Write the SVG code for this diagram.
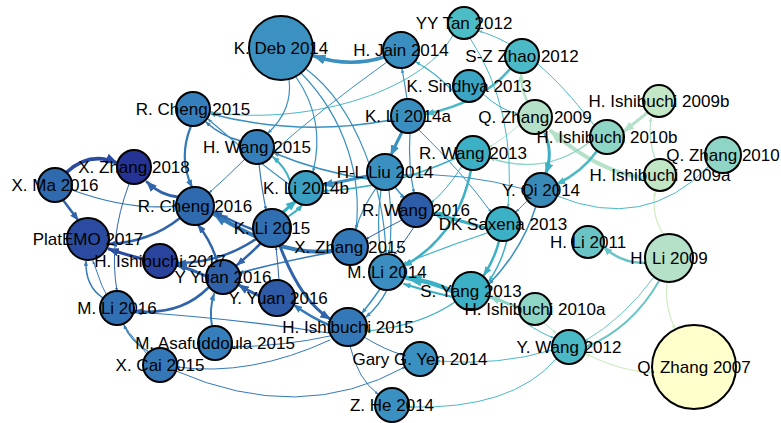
<svg xmlns="http://www.w3.org/2000/svg" width="781" height="423" viewBox="0 0 781 423">
<style>
.e{fill:none;stroke-linecap:round}
.cA{stroke:#2a4b9f;marker-end:url(#mA)}
.cB{stroke:#2f64ab;marker-end:url(#mB)}
.cC{stroke:#3479b8;marker-end:url(#mC)}
.cD{stroke:#3a90c0;marker-end:url(#mD)}
.cE{stroke:#3cb0c4;marker-end:url(#mE)}
.cF{stroke:#4bb8c6;marker-end:url(#mF)}
.cG{stroke:#6ac4c6;marker-end:url(#mG)}
.cH{stroke:#8ed5c6;marker-end:url(#mH)}
.cI{stroke:#b5e1c8;marker-end:url(#mI)}
.cJ{stroke:#cfecc2;marker-end:url(#mJ)}
.nd circle{stroke:#000;stroke-width:2}
.nd text{font-family:"Liberation Sans",Arial,sans-serif;font-size:17px;text-anchor:middle;fill:#000}
</style>
<defs>
<marker id="mA" viewBox="0 0 10 8" refX="9" refY="4" markerWidth="3.6" markerHeight="2.9" orient="auto" markerUnits="strokeWidth"><path d="M0,0L10,4L0,8z" fill="#2a4b9f"/></marker>
<marker id="mB" viewBox="0 0 10 8" refX="9" refY="4" markerWidth="3.6" markerHeight="2.9" orient="auto" markerUnits="strokeWidth"><path d="M0,0L10,4L0,8z" fill="#2f64ab"/></marker>
<marker id="mC" viewBox="0 0 10 8" refX="9" refY="4" markerWidth="3.6" markerHeight="2.9" orient="auto" markerUnits="strokeWidth"><path d="M0,0L10,4L0,8z" fill="#3479b8"/></marker>
<marker id="mD" viewBox="0 0 10 8" refX="9" refY="4" markerWidth="3.6" markerHeight="2.9" orient="auto" markerUnits="strokeWidth"><path d="M0,0L10,4L0,8z" fill="#3a90c0"/></marker>
<marker id="mE" viewBox="0 0 10 8" refX="9" refY="4" markerWidth="3.6" markerHeight="2.9" orient="auto" markerUnits="strokeWidth"><path d="M0,0L10,4L0,8z" fill="#3cb0c4"/></marker>
<marker id="mF" viewBox="0 0 10 8" refX="9" refY="4" markerWidth="3.6" markerHeight="2.9" orient="auto" markerUnits="strokeWidth"><path d="M0,0L10,4L0,8z" fill="#4bb8c6"/></marker>
<marker id="mG" viewBox="0 0 10 8" refX="9" refY="4" markerWidth="3.6" markerHeight="2.9" orient="auto" markerUnits="strokeWidth"><path d="M0,0L10,4L0,8z" fill="#6ac4c6"/></marker>
<marker id="mH" viewBox="0 0 10 8" refX="9" refY="4" markerWidth="3.6" markerHeight="2.9" orient="auto" markerUnits="strokeWidth"><path d="M0,0L10,4L0,8z" fill="#8ed5c6"/></marker>
<marker id="mI" viewBox="0 0 10 8" refX="9" refY="4" markerWidth="3.6" markerHeight="2.9" orient="auto" markerUnits="strokeWidth"><path d="M0,0L10,4L0,8z" fill="#b5e1c8"/></marker>
<marker id="mJ" viewBox="0 0 10 8" refX="9" refY="4" markerWidth="3.6" markerHeight="2.9" orient="auto" markerUnits="strokeWidth"><path d="M0,0L10,4L0,8z" fill="#cfecc2"/></marker>
</defs>
<rect width="781" height="423" fill="#fff"/>
<g id="edges">
<path class="e cI" stroke-width="4" d="M645,178 Q598,172 551,131"/>
<path class="e cI" stroke-width="3" d="M647,113 Q636,122 624,131"/>
<path class="e cI" stroke-width="1.2" d="M655,159 Q648,138 651,118"/>
<path class="e cJ" stroke-width="1.2" d="M663,234 Q651,214 655,192"/>
<path class="e cG" stroke-width="2.5" d="M645,263 Q620,263 604,247"/>
<path class="e cG" stroke-width="1" d="M654,277 Q624,318 585,341"/>
<path class="e cG" stroke-width="2" d="M659,281 Q632,328 586,347"/>
<path class="e cJ" stroke-width="1.2" d="M667,282 Q664,305 675,329"/>
<path class="e cJ" stroke-width="1.2" d="M653,373 Q620,371 586,354"/>
<path class="e cF" stroke-width="1" d="M526,323 Q542,334 554,338"/>
<path class="e cI" stroke-width="1" d="M544,323 Q551,329 556,333"/>
<path class="e cF" stroke-width="1" d="M557,196 Q645,232 708,167"/>
<path class="e cF" stroke-width="2.5" d="M597,151 Q582,172 557,184"/>
<path class="e cH" stroke-width="1.5" d="M591,141 Q545,177 490,158"/>
<path class="e cE" stroke-width="3" d="M545,134 Q553,152 546,173"/>
<path class="e cI" stroke-width="2.5" d="M527,101 Q521,88 521,74"/>
<path class="e cI" stroke-width="1" d="M519,125 Q502,140 489,147"/>
<path class="e cE" stroke-width="1" d="M483,94 Q500,110 518,114"/>
<path class="e cF" stroke-width="1" d="M594,125 C566,90 530,46 479,31"/>
<path class="e cF" stroke-width="2.5" d="M510,69 Q482,102 426,114"/>
<path class="e cF" stroke-width="1" d="M470,38 Q517,110 508,207"/>
<path class="e cF" stroke-width="1" d="M453,35 C420,95 300,126 210,112"/>
<path class="e cE" stroke-width="1.2" d="M454,92 Q436,73 416,62"/>
<path class="e cD" stroke-width="3.5" d="M384,57 Q350,68 314,56"/>
<path class="e cD" stroke-width="1.2" d="M407,99 Q405,85 402,69"/>
<path class="e cD" stroke-width="1.5" d="M391,120 Q300,137 211,114"/>
<path class="e cD" stroke-width="3" d="M402,132 Q396,144 391,155"/>
<path class="e cD" stroke-width="1.2" d="M410,133 Q408,165 414,193"/>
<path class="e cD" stroke-width="1" d="M419,130 Q462,172 491,212"/>
<path class="e cD" stroke-width="1.2" d="M289,79 Q293,110 268,133"/>
<path class="e cD" stroke-width="1.2" d="M296,77 Q326,120 313,172"/>
<path class="e cD" stroke-width="1.2" d="M301,73 C347,120 362,180 356,229"/>
<path class="e cD" stroke-width="1.2" d="M306,69 C358,108 384,190 386,254"/>
<path class="e cD" stroke-width="3" d="M367,176 Q346,181 323,185"/>
<path class="e cD" stroke-width="1.5" d="M368,179 Q320,172 274,153"/>
<path class="e cE" stroke-width="1.5" d="M456,158 Q390,188 323,191"/>
<path class="e cE" stroke-width="2.5" d="M471,170 Q458,236 404,266"/>
<path class="e cE" stroke-width="1" d="M462,166 Q447,190 431,203"/>
<path class="e cD" stroke-width="1.5" d="M395,187 Q402,196 405,198"/>
<path class="e cD" stroke-width="1.2" d="M381,190 Q376,224 381,255"/>
<path class="e cD" stroke-width="1.2" d="M389,190 Q393,224 389,254"/>
<path class="e cD" stroke-width="1.2" d="M376,188 Q361,210 356,229"/>
<path class="e cE" stroke-width="3" d="M486,228 Q460,221 433,213"/>
<path class="e cE" stroke-width="2.5" d="M499,241 Q495,258 484,275"/>
<path class="e cE" stroke-width="1.5" d="M507,240 Q502,262 489,281"/>
<path class="e cE" stroke-width="1.2" d="M487,233 Q445,247 403,264"/>
<path class="e cD" stroke-width="1" d="M528,200 Q522,206 516,212"/>
<path class="e cD" stroke-width="1.5" d="M536,206 Q522,250 489,284"/>
<path class="e cD" stroke-width="1" d="M524,189 Q462,172 403,175"/>
<path class="e cE" stroke-width="4.5" d="M452,291 Q430,281 407,278"/>
<path class="e cE" stroke-width="2" d="M453,297 Q430,292 404,284"/>
<path class="e cE" stroke-width="1.2" d="M455,302 Q420,326 367,331"/>
<path class="e cH" stroke-width="3" d="M519,308 Q505,302 490,297"/>
<path class="e cC" stroke-width="4" d="M332,251 C290,256 250,236 214,214"/>
<path class="e cB" stroke-width="2.5" d="M254,230 Q236,223 214,212"/>
<path class="e cE" stroke-width="3" d="M282,213 Q290,206 296,201"/>
<path class="e cE" stroke-width="2" d="M289,216 Q297,211 302,205"/>
<path class="e cB" stroke-width="2.5" d="M261,243 Q249,255 237,265"/>
<path class="e cB" stroke-width="2.5" d="M256,239 Q220,263 178,263"/>
<path class="e cB" stroke-width="2.5" d="M217,261 Q211,241 198,225"/>
<path class="e cB" stroke-width="3" d="M206,276 Q193,270 177,265"/>
<path class="e cA" stroke-width="3" d="M143,259 Q126,255 109,249"/>
<path class="e cB" stroke-width="2.5" d="M180,218 Q150,242 109,244"/>
<path class="e cB" stroke-width="2.5" d="M63,200 Q72,212 78,220"/>
<path class="e cA" stroke-width="3.5" d="M67,172 Q90,151 117,163"/>
<path class="e cB" stroke-width="3" d="M178,197 Q160,195 147,182"/>
<path class="e cC" stroke-width="1.2" d="M72,190 Q130,211 176,206"/>
<path class="e cC" stroke-width="2.2" d="M191,126 Q178,158 192,187"/>
<path class="e cC" stroke-width="1.5" d="M241,141 Q221,136 206,122"/>
<path class="e cC" stroke-width="1" d="M245,159 Q226,178 209,193"/>
<path class="e cE" stroke-width="2" d="M290,181 Q286,168 273,157"/>
<path class="e cD" stroke-width="1.2" d="M290,185 Q250,156 208,119"/>
<path class="e cC" stroke-width="1.2" d="M259,164 Q262,190 266,210"/>
<path class="e cB" stroke-width="1" d="M402,220 Q382,230 366,239"/>
<path class="e cD" stroke-width="1.5" d="M380,289 Q372,301 362,313"/>
<path class="e cD" stroke-width="1.5" d="M387,290 Q379,306 366,317"/>
<path class="e cC" stroke-width="1.5" d="M333,252 Q280,262 239,273"/>
<path class="e cB" stroke-width="3" d="M280,246 Q300,300 330,319"/>
<path class="e cC" stroke-width="2.5" d="M329,325 Q312,318 294,305"/>
<path class="e cB" stroke-width="3" d="M260,296 Q250,292 239,285"/>
<path class="e cB" stroke-width="2.5" d="M208,288 Q180,316 134,311"/>
<path class="e cC" stroke-width="2" d="M212,326 Q209,310 214,294"/>
<path class="e cC" stroke-width="1.5" d="M103,298 Q85,286 86,261"/>
<path class="e cC" stroke-width="1" d="M147,354 Q108,312 93,261"/>
<path class="e cC" stroke-width="1.2" d="M149,352 Q130,341 124,325"/>
<path class="e cB" stroke-width="1" d="M129,184 Q108,240 117,291"/>
<path class="e cC" stroke-width="1.2" d="M329,333 Q230,318 134,312"/>
<path class="e cC" stroke-width="1" d="M330,336 Q285,346 232,347"/>
<path class="e cC" stroke-width="1" d="M330,340 Q250,377 177,367"/>
<path class="e cC" stroke-width="1" d="M176,371 Q300,425 405,367"/>
<path class="e cC" stroke-width="1" d="M350,346 Q358,380 378,394"/>
<path class="e cC" stroke-width="1" d="M364,337 Q385,350 403,355"/>
<path class="e cF" stroke-width="1" d="M552,350 Q500,366 437,361"/>
<path class="e cF" stroke-width="1" d="M556,359 Q512,410 409,407"/>
<path class="e cB" stroke-width="1" d="M279,280 Q278,265 276,247"/>
<path class="e cD" stroke-width="1" d="M387,62 Q320,110 273,152"/>
<path class="e cB" stroke-width="1" d="M414,227 Q402,245 394,255"/>
</g>
<g id="nodes" class="nd">
<g id="n-kdeb2014"><circle cx="281" cy="48" r="32" fill="#3b92c0"/><text x="281" y="54">K. Deb 2014</text></g>
<g id="n-hjain2014"><circle cx="401" cy="50" r="18" fill="#3b8fc0"/><text x="401" y="56">H. Jain 2014</text></g>
<g id="n-yytan2012"><circle cx="464" cy="23" r="16" fill="#4dbdc5"/><text x="464" y="29">YY Tan 2012</text></g>
<g id="n-szzhao2012"><circle cx="522" cy="56" r="17" fill="#4bbac6"/><text x="522" y="62">S-Z Zhao 2012</text></g>
<g id="n-ksindhya2013"><circle cx="469" cy="86" r="16" fill="#3ca5c3"/><text x="469" y="92">K. Sindhya 2013</text></g>
<g id="n-kli2014a"><circle cx="408" cy="116" r="17" fill="#3a8fc0"/><text x="408" y="122">K. Li 2014a</text></g>
<g id="n-qzhang2009"><circle cx="535" cy="117" r="17" fill="#b5e1c8"/><text x="535" y="123">Q. Zhang 2009</text></g>
<g id="n-hishibuchi2009b"><circle cx="659" cy="101" r="16" fill="#c4e8c6"/><text x="659" y="107">H. Ishibuchi 2009b</text></g>
<g id="n-hishibuchi2010b"><circle cx="607" cy="137" r="17" fill="#8ed5c6"/><text x="607" y="143">H. Ishibuchi 2010b</text></g>
<g id="n-hishibuchi2009a"><circle cx="660" cy="175" r="16" fill="#c0e6c6"/><text x="660" y="181">H. Ishibuchi 2009a</text></g>
<g id="n-qzhang2010"><circle cx="723" cy="155" r="18" fill="#8ed5c6"/><text x="723" y="161">Q. Zhang 2010</text></g>
<g id="n-rcheng2015"><circle cx="193" cy="109" r="17" fill="#3580bc"/><text x="193" y="115">R. Cheng 2015</text></g>
<g id="n-hwang2015"><circle cx="257" cy="147" r="17" fill="#3580bc"/><text x="257" y="153">H. Wang 2015</text></g>
<g id="n-rwang2013"><circle cx="473" cy="153" r="17" fill="#3cb0c4"/><text x="473" y="159">R. Wang 2013</text></g>
<g id="n-hlliu2014"><circle cx="385" cy="172" r="18" fill="#3a90c0"/><text x="385" y="178">H-L Liu 2014</text></g>
<g id="n-xzhang2018"><circle cx="134" cy="167" r="17" fill="#253494"/><text x="134" y="173">X. Zhang 2018</text></g>
<g id="n-xma2016"><circle cx="55" cy="185" r="17" fill="#2f6aae"/><text x="55" y="191">X. Ma 2016</text></g>
<g id="n-rcheng2016"><circle cx="195" cy="206" r="19" fill="#2f6aae"/><text x="195" y="212">R. Cheng 2016</text></g>
<g id="n-kli2014b"><circle cx="306" cy="188" r="17" fill="#3a9fc2"/><text x="306" y="194">K. Li 2014b</text></g>
<g id="n-rwang2016"><circle cx="416" cy="210" r="17" fill="#2e5da8"/><text x="416" y="216">R. Wang 2016</text></g>
<g id="n-yqi2014"><circle cx="541" cy="190" r="17" fill="#3a8ab8"/><text x="541" y="196">Y. Qi 2014</text></g>
<g id="n-dksaxena2013"><circle cx="503" cy="224" r="17" fill="#3cb0c4"/><text x="503" y="230">DK Saxena 2013</text></g>
<g id="n-platemo2017"><circle cx="88" cy="239" r="21" fill="#2a4b9f"/><text x="88" y="245">PlatEMO 2017</text></g>
<g id="n-kli2015"><circle cx="272" cy="228" r="19" fill="#3070b2"/><text x="272" y="234">K. Li 2015</text></g>
<g id="n-xzhang2015"><circle cx="350" cy="247" r="18" fill="#3478b8"/><text x="350" y="253">X. Zhang 2015</text></g>
<g id="n-yyuan2016a"><circle cx="223" cy="277" r="17" fill="#2f62aa"/><text x="223" y="283">Y Yuan 2016</text></g>
<g id="n-hishibuchi2017"><circle cx="160" cy="261" r="17" fill="#2a449e"/><text x="160" y="267">H. Ishibuchi 2017</text></g>
<g id="n-mli2014"><circle cx="387" cy="272" r="18" fill="#3a8ec0"/><text x="387" y="278">M. Li 2014</text></g>
<g id="n-hli2011"><circle cx="588" cy="242" r="16" fill="#6ac4c6"/><text x="588" y="248">H. Li 2011</text></g>
<g id="n-hli2009"><circle cx="669" cy="258" r="24" fill="#b5e1c8"/><text x="669" y="264">H. Li 2009</text></g>
<g id="n-yyuan2016b"><circle cx="277" cy="298" r="18" fill="#2e5aa6"/><text x="278" y="304">Y. Yuan 2016</text></g>
<g id="n-syang2013"><circle cx="471" cy="291" r="19" fill="#3cb0c4"/><text x="471" y="297">S. Yang 2013</text></g>
<g id="n-hishibuchi2010a"><circle cx="535" cy="309" r="16" fill="#8ed5c6"/><text x="535" y="315">H. Ishibuchi 2010a</text></g>
<g id="n-mli2016"><circle cx="117" cy="308" r="17" fill="#3070b2"/><text x="117" y="314">M. Li 2016</text></g>
<g id="n-hishibuchi2015"><circle cx="348" cy="327" r="19" fill="#3478b8"/><text x="348" y="333">H. Ishibuchi 2015</text></g>
<g id="n-masafuddoula2015"><circle cx="215" cy="343" r="17" fill="#3580bc"/><text x="215" y="349">M. Asafuddoula 2015</text></g>
<g id="n-xcai2015"><circle cx="160" cy="365" r="17" fill="#3478b8"/><text x="160" y="371">X. Cai 2015</text></g>
<g id="n-garyyen2014"><circle cx="420" cy="359" r="17" fill="#3a90c0"/><text x="420" y="365">Gary G. Yen 2014</text></g>
<g id="n-ywang2012"><circle cx="569" cy="347" r="17" fill="#4bb8c6"/><text x="569" y="353">Y. Wang 2012</text></g>
<g id="n-qzhang2007"><circle cx="694" cy="367" r="42" fill="#ffffcc"/><text x="694" y="373">Q. Zhang 2007</text></g>
<g id="n-zhe2014"><circle cx="392" cy="405" r="17" fill="#3a90c0"/><text x="392" y="411">Z. He 2014</text></g>
</g>
</svg>
